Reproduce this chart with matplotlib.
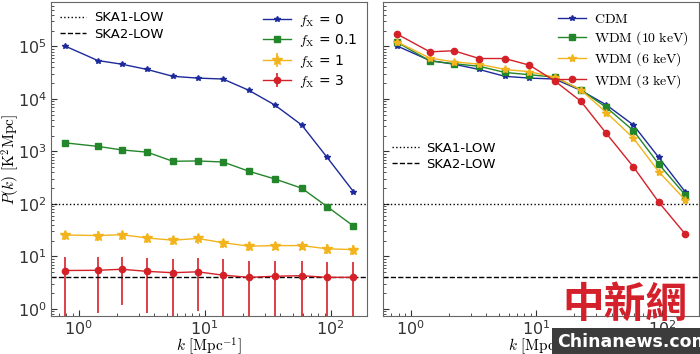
import matplotlib
matplotlib.use('Agg')
import matplotlib.pyplot as plt
from matplotlib.lines import Line2D

plt.rcParams['mathtext.fontset'] = 'cm'

# wavenumbers (same for both panels)
k = [0.78, 1.42, 2.2, 3.5, 5.6, 8.8, 14.0, 22.5, 36.0, 59.0, 94.0, 152.0]

# left panel: X-ray heating fraction
p_fx0 = [1.02e5, 5.4e4, 4.6e4, 3.65e4, 2.7e4, 2.5e4, 2.4e4, 1.46e4, 7.7e3, 3.2e3, 770, 172]
p_fx01 = [1460, 1250, 1070, 970, 650, 660, 630, 420, 300, 200, 89, 38]
p_fx1 = [25.7, 25.0, 26.0, 22.5, 20.4, 22.0, 18.3, 15.7, 16.1, 16.1, 14.0, 13.5]
err_fx1 = [5, 5, 5, 4.5, 4, 4.5, 3.5, 3, 3, 3, 3, 3]
p_fx3 = [5.4, 5.45, 5.7, 5.2, 4.9, 5.1, 4.4, 4.0, 4.2, 4.3, 4.0, 4.0]
fx3_hi = [9.8, 9.8, 9.8, 9.4, 9.0, 9.4, 8.8, 8.3, 8.3, 8.3, 7.8, 7.8]
fx3_lo = [0.1, 0.84, 1.19, 0.85, 0.1, 0.92, 0.1, 0.1, 0.1, 0.1, 0.1, 0.1]

# right panel: dark matter models
p_cdm = p_fx0
p_wdm10 = [1.2e5, 5.3e4, 4.7e4, 4.2e4, 3.2e4, 2.9e4, 2.6e4, 1.5e4, 6.9e3, 2.5e3, 575, 150]
p_wdm6 = [1.22e5, 6.0e4, 5.1e4, 4.6e4, 3.65e4, 3.3e4, 2.6e4, 1.5e4, 5.5e3, 1.8e3, 410, 121]
p_wdm3 = [1.72e5, 7.9e4, 8.3e4, 5.9e4, 5.9e4, 4.4e4, 2.2e4, 9.1e3, 2.2e3, 510, 108, 27]

ska1 = 100
ska2 = 4.0

blue = '#1c2a9c'
green = '#23862a'
yellow = '#f2b31c'
red = '#d42027'

fig = plt.figure(figsize=(7, 3.54), dpi=100)
ax1 = fig.add_axes([0.0724, 0.107, 0.452, 0.887])
ax2 = fig.add_axes([0.547, 0.107, 0.451, 0.887])

lab_fx = [r'$f_{\rm X}$ = 0', r'$f_{\rm X}$ = 0.1', r'$f_{\rm X}$ = 1', r'$f_{\rm X}$ = 3']
ax1.errorbar(k, p_fx0, color=blue, marker='*', ms=4, lw=1, label=lab_fx[0])
ax1.errorbar(k, p_fx01, color=green, marker='s', ms=4.5, lw=1, label=lab_fx[1])
ax1.errorbar(k, p_fx1, yerr=err_fx1, color=yellow, marker='*', ms=7, lw=1, elinewidth=1.2, label=lab_fx[2])
lo = [p - l for p, l in zip(p_fx3, fx3_lo)]
hi = [h - p for p, h in zip(p_fx3, fx3_hi)]
ax1.errorbar(k, p_fx3, yerr=[lo, hi], color=red, marker='o', ms=4.5, lw=1, elinewidth=1.2, label=lab_fx[3])

lab_dm = [r'$\mathrm{CDM}$', r'$\mathrm{WDM\ (10\ keV)}$', r'$\mathrm{WDM\ (6\ keV)}$', r'$\mathrm{WDM\ (3\ keV)}$']
ax2.errorbar(k, p_cdm, color=blue, marker='*', ms=4, lw=1, label=lab_dm[0])
ax2.errorbar(k, p_wdm10, color=green, marker='s', ms=4.5, lw=1, label=lab_dm[1])
ax2.errorbar(k, p_wdm6, color=yellow, marker='*', ms=6, lw=1, label=lab_dm[2])
ax2.errorbar(k, p_wdm3, color=red, marker='o', ms=4.5, lw=1, label=lab_dm[3])

ska_handles = [Line2D([], [], color='k', ls=':', lw=1), Line2D([], [], color='k', ls='--', lw=1)]
for ax in (ax1, ax2):
    ax.axhline(ska1, color='k', ls=':', lw=1)
    ax.axhline(ska2, color='k', ls='--', lw=1)
    ax.set_xscale('log')
    ax.set_yscale('log')
    ax.set_xlim(0.6, 195)
    ax.set_ylim(0.73, 7e5)
    ax.tick_params(which='both', direction='in', labelsize=11.5, colors='#333333')
    ax.tick_params(which='major', length=4)
    ax.tick_params(which='minor', length=2)
    ax.tick_params(axis='x', pad=2)
    ax.tick_params(axis='y', pad=3)
    for s in ax.spines.values():
        s.set_color('#666666')
    ax.set_xlabel(r'$k\ [\mathrm{Mpc^{-1}}]$', fontsize=11, labelpad=-2)

ax2.tick_params(labelleft=False)
ax1.set_ylabel(r'$P(k)\ [\mathrm{K^2Mpc}]$', fontsize=11, labelpad=-3)

leg_kw = dict(frameon=False, labelspacing=0.25, borderaxespad=0.3, handletextpad=0.6)
leg1 = ax1.legend(ska_handles, ['SKA1-LOW', 'SKA2-LOW'], loc='upper left',
                  fontsize=9.5, bbox_to_anchor=(0.0, 1.0), **leg_kw)
ax1.add_artist(leg1)
ax1.legend(loc='upper right', fontsize=10, **leg_kw)

leg2 = ax2.legend(ska_handles, ['SKA1-LOW', 'SKA2-LOW'], loc='upper left',
                  fontsize=9.5, bbox_to_anchor=(0.0, 0.585), **leg_kw)
ax2.add_artist(leg2)
ax2.legend(loc='upper right', fontsize=10, **leg_kw)

# watermark
fig.text(0.893, 0.14, '中新網', color='#d4202a', fontsize=30, fontweight='bold',
         family=['Noto Sans CJK TC', 'DejaVu Sans'], ha='center', va='center')
fig.text(0.905, 0.034, 'Chinanews.com', color='white', fontsize=12.5, fontweight='bold',
         ha='center', va='center',
         bbox=dict(boxstyle='square,pad=0.3', fc='#3c3c3c', ec='none'))

fig.savefig('out.png', dpi=100)
